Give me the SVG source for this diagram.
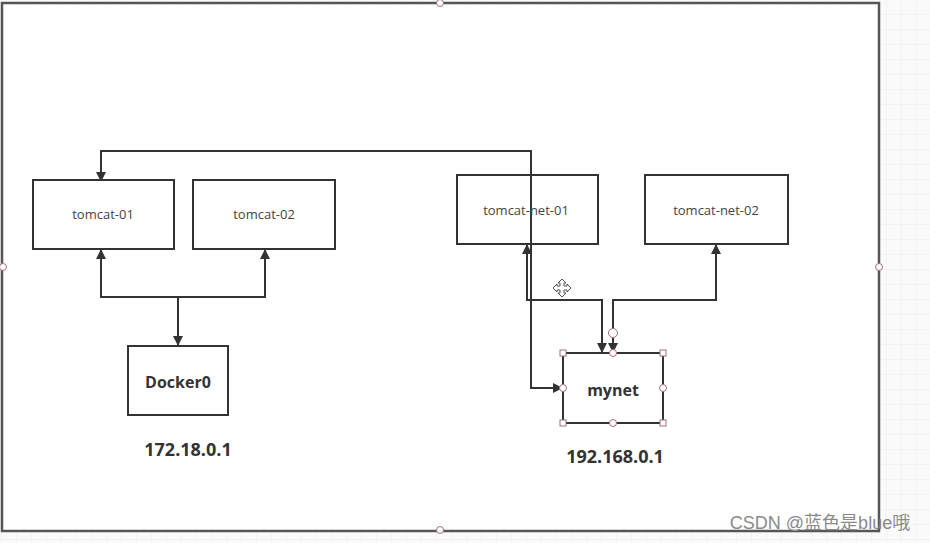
<svg xmlns="http://www.w3.org/2000/svg" width="930" height="543" viewBox="0 0 930 543">
<defs>
<pattern id="grid" width="15" height="15" patternUnits="userSpaceOnUse" x="2" y="0">
<path d="M15 0V15M0 15H15" fill="none" stroke="#ececec" stroke-width="1"/>
</pattern>
<marker id="ah" viewBox="0 0 10 10" refX="9" refY="5" markerWidth="10" markerHeight="10" markerUnits="userSpaceOnUse" orient="auto-start-reverse">
<path d="M0 0L10 5L0 10Z" fill="#333"/>
</marker>
<style>
.box{fill:#fff;stroke:#333;stroke-width:2}
.lbl{font-family:"Open Sans","Noto Sans",sans-serif;font-size:13px;fill:#444;text-anchor:middle}
.big{font-family:"Open Sans","Noto Sans",sans-serif;font-weight:bold;fill:#333;text-anchor:middle}
.c{fill:none;stroke:#333;stroke-width:2}
.h{fill:#fff;stroke:#a07080;stroke-width:1}
</style>
</defs>
<rect width="930" height="543" fill="#fafafa"/>
<rect width="930" height="543" fill="url(#grid)"/>
<rect x="2" y="3" width="877" height="528" fill="#fff" stroke="#555" stroke-width="2.5"/>
<circle class="h" cx="440" cy="3" r="3.5"/>
<circle class="h" cx="3" cy="267" r="3.5"/>
<circle class="h" cx="879" cy="267" r="3.5"/>
<circle class="h" cx="440" cy="530" r="3.5"/>

<g id="connectors">
<path class="c" d="M101 181V151H531V388H562" marker-start="url(#ah)" marker-end="url(#ah)"/>
<path class="c" d="M101 250V297H265V250" marker-start="url(#ah)" marker-end="url(#ah)"/>
<path class="c" d="M178 297V345" marker-end="url(#ah)"/>
<path class="c" d="M527 245V300H602V352" marker-start="url(#ah)" marker-end="url(#ah)"/>
<path class="c" d="M716 245V300H613V352" marker-start="url(#ah)" marker-end="url(#ah)"/>
</g>

<g id="tomcat-01"><rect class="box" x="33" y="180" width="141" height="69"/><text class="lbl" x="103" y="219">tomcat-01</text></g>
<g id="tomcat-02"><rect class="box" x="193" y="180" width="142" height="69"/><text class="lbl" x="264" y="219">tomcat-02</text></g>
<g id="tomcat-net-01"><rect class="box" x="457" y="175" width="141" height="69" style="fill:none"/><text class="lbl" x="526" y="215">tomcat-net-01</text></g>
<g id="tomcat-net-02"><rect class="box" x="645" y="175" width="143" height="69"/><text class="lbl" x="716" y="215">tomcat-net-02</text></g>
<g id="docker0"><rect class="box" x="128" y="346" width="100" height="69"/><text class="big" x="178" y="388" font-size="16">Docker0</text></g>
<g id="mynet"><rect class="box" x="563" y="353" width="100" height="70"/><text class="big" x="613" y="396" font-size="16">mynet</text>
<rect class="h" x="560" y="350" width="6" height="6"/><rect class="h" x="660" y="350" width="6" height="6"/>
<rect class="h" x="560" y="420" width="6" height="6"/><rect class="h" x="660" y="420" width="6" height="6"/>
<circle class="h" cx="613" cy="353" r="3.5"/><circle class="h" cx="563" cy="388" r="3.5"/>
<circle class="h" cx="663" cy="388" r="3.5"/><circle class="h" cx="613" cy="423" r="3.5"/>
<circle class="h" cx="613" cy="333" r="4.5" stroke-width="1.5"/>
</g>
<g id="cursor" fill="#fff" stroke="#555" stroke-width="1">
<path d="M562 279L566 283H564V286H567V284L571 288L567 292V290H564V293H566L562 297L558 293H560V290H557V292L553 288L557 284V286H560V283H558Z"/>
</g>
<text class="big" x="188" y="456" font-size="18">172.18.0.1</text>
<text class="big" x="615" y="463" font-size="18">192.168.0.1</text>
<text x="820" y="529" font-family="Liberation Sans,'Noto Sans CJK SC',sans-serif" font-size="18" fill="#8a8a8a" text-anchor="middle">CSDN @蓝色是blue哦</text>
</svg>
